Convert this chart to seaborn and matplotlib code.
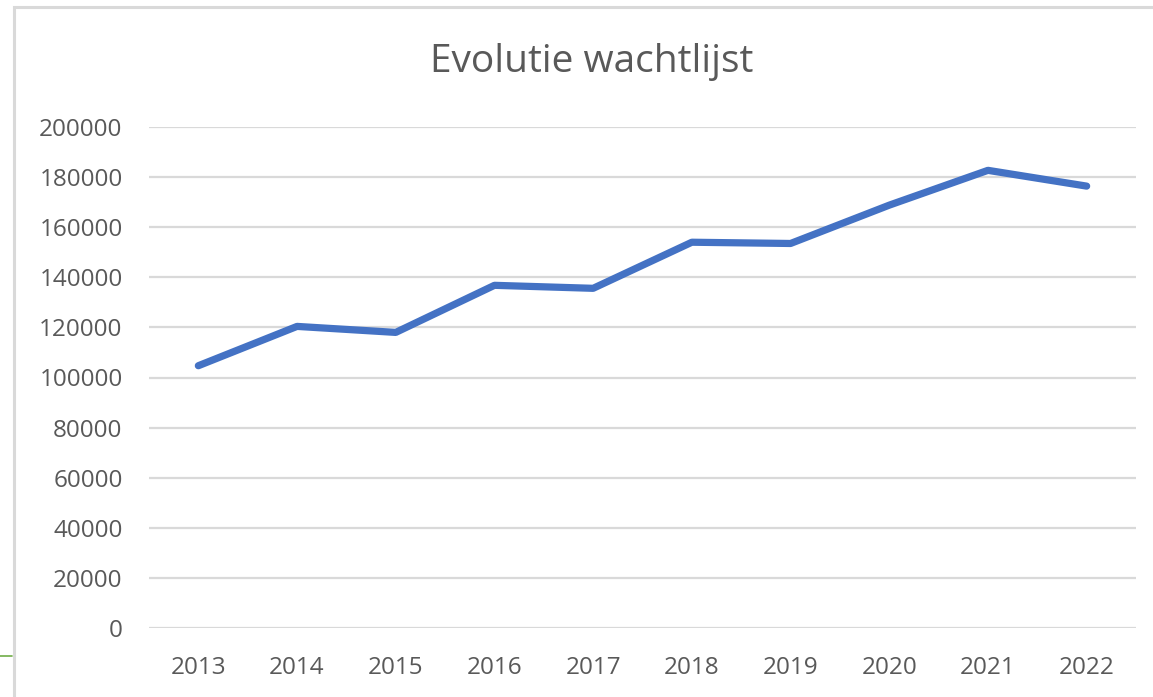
import pandas as pd
import matplotlib.pyplot as plt
import seaborn as sns
from matplotlib.patches import Rectangle
from matplotlib.lines import Line2D

# Data
years = ['2013', '2014', '2015', '2016', '2017', '2018', '2019', '2020', '2021', '2022']
wachtlijst = [104700, 120400, 118000, 136800, 135600, 154000, 153500, 168800, 182700, 176400]
y_ticks = [0, 20000, 40000, 60000, 80000, 100000, 120000, 140000, 160000, 180000, 200000]

df = pd.DataFrame({'jaar': years, 'wachtlijst': wachtlijst})

sns.set_style('white')
plt.rcParams['font.family'] = ['Open Sans', 'DejaVu Sans']

fig = plt.figure(figsize=(11.53, 6.97), dpi=100)
ax = fig.add_axes([149 / 1153, 1 - 628 / 697, 987 / 1153, 501 / 697])

# Light frame around the chart area (Excel chart border)
fig.patches.append(Rectangle((14 / 1153, -0.1), 1.2, 1 - 7 / 697 + 0.1,
                             transform=fig.transFigure, fill=False,
                             edgecolor='#d9d9d9', linewidth=2.2, zorder=0))
fig.lines.append(Line2D([0, 12 / 1153], [1 - 656 / 697, 1 - 656 / 697],
                        transform=fig.transFigure, color='#70ad47', linewidth=1.2))

sns.lineplot(data=df, x='jaar', y='wachtlijst', ax=ax, color='#4472C4',
             linewidth=5.2, solid_capstyle='round', solid_joinstyle='round', zorder=3)

ax.set_xlim(-0.5, len(years) - 0.5)
ax.set_ylim(0, 200000)
ax.set_yticks(y_ticks)
ax.set_yticklabels([str(v) for v in y_ticks])
ax.yaxis.grid(True, color='#d9d9d9', linewidth=1.6)
ax.set_axisbelow(True)
for s in ax.spines.values():
    s.set_visible(False)
ax.tick_params(axis='both', length=0, labelsize=17.5, labelcolor='#595959')
ax.tick_params(axis='y', pad=19)
ax.tick_params(axis='x', pad=20)
ax.set_xlabel('')
ax.set_ylabel('')

fig.text(592 / 1153, 1 - 62 / 697, 'Evolutie wachtlijst', ha='center', va='center',
         fontsize=28, color='#595959')

plt.savefig('out.png', dpi=100)
